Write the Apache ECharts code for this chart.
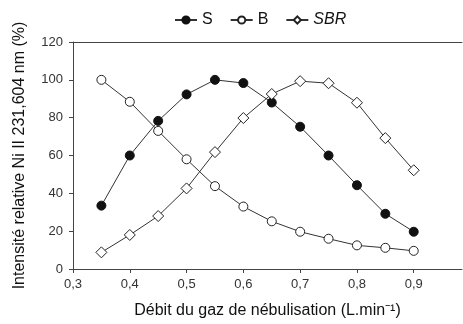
<!DOCTYPE html>
<html><head><meta charset="utf-8">
<script src="https://cdn.jsdelivr.net/npm/echarts@6/dist/echarts.min.js"></script>
<style>html,body{margin:0;padding:0;background:#fff}#c{width:463px;height:324px}</style>
</head><body><div id="c"></div>
<script>
const xValues = [0.35, 0.40, 0.45, 0.50, 0.55, 0.60, 0.65, 0.70, 0.75, 0.80, 0.85, 0.90];
const sValues = [33.5, 60, 78.3, 92.3, 100, 98.3, 88, 75.2, 60, 44.3, 29.2, 19.7];
const bValues = [100, 88.4, 73, 58, 43.8, 33, 25.2, 19.7, 16, 12.5, 11.2, 9.6];
const sbrValues = [8.8, 18, 28, 42.6, 61.8, 79.8, 92.5, 99.3, 98.2, 87.9, 69.2, 52.2];
const seriesNames = ['S', 'B', 'SBR'];
const xTitle = 'Débit du gaz de nébulisation (L.min⁻¹)';
const yTitle = 'Intensité relative Ni II 231,604 nm (%)';

const pair = v => xValues.map((x, i) => [x, v[i]]);
const font = 'Liberation Sans, Arial, sans-serif';
const lineStyle = {color: '#333', width: 1};
const axisColor = '#444';
const chart = echarts.init(document.getElementById('c'), null, {renderer: 'canvas'});
chart.setOption({
  animation: false,
  grid: {left: 73, right: 1, top: 42, bottom: 47},
  legend: {
    top: 7, left: 169, itemWidth: 22, itemHeight: 9, itemGap: 17,
    textStyle: {fontFamily: font, fontSize: 16, color: '#111', rich: {i: {fontStyle: 'italic', fontFamily: font, fontSize: 16, color: '#111'}}},
    formatter: n => n === 'SBR' ? '{i|SBR}' : n,
    data: seriesNames
  },
  xAxis: [{
    type: 'value', min: 0.3, max: 0.985, interval: 0.1,
    name: xTitle, nameLocation: 'middle', nameGap: 34,
    nameTextStyle: {fontFamily: font, fontSize: 16, color: '#111'},
    axisLine: {lineStyle: {color: axisColor, width: 1}},
    axisTick: {show: true, length: 4, lineStyle: {color: axisColor}},
    axisLabel: {showMaxLabel: false, fontFamily: font, fontSize: 13, color: '#333', margin: 9,
      formatter: v => v.toFixed(1).replace('.', ',')},
    splitLine: {show: false}
  }, {
    type: 'value', position: 'top', min: 0.3, max: 0.985,
    axisLine: {show: true, lineStyle: {color: axisColor, width: 1}},
    axisTick: {show: false}, axisLabel: {show: false}, splitLine: {show: false}
  }],
  yAxis: {
    type: 'value', min: 0, max: 120, interval: 20,
    name: yTitle, nameLocation: 'middle', nameGap: 45,
    nameTextStyle: {fontFamily: font, fontSize: 16, color: '#111'},
    axisLine: {show: true, lineStyle: {color: axisColor, width: 1}},
    axisTick: {show: true, length: 4, lineStyle: {color: axisColor}},
    axisLabel: {fontFamily: font, fontSize: 13, color: '#333', margin: 10},
    splitLine: {show: false}
  },
  series: [
    {name: 'S', type: 'line', data: pair(sValues), symbol: 'circle', symbolSize: 9,
     lineStyle, itemStyle: {color: '#111', borderColor: '#111', borderWidth: 1}},
    {name: 'B', type: 'line', data: pair(bValues), symbol: 'circle', symbolSize: 9,
     lineStyle, itemStyle: {color: '#fff', borderColor: '#222', borderWidth: 1}},
    {name: 'SBR', type: 'line', data: pair(sbrValues), symbol: 'diamond', symbolSize: 11,
     lineStyle, itemStyle: {color: '#fff', borderColor: '#222', borderWidth: 1}}
  ]
});
</script></body></html>
